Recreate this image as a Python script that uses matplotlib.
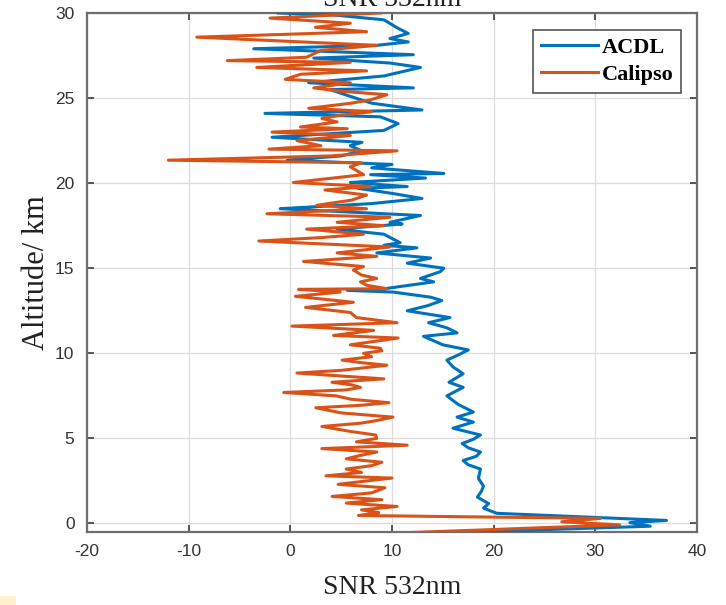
import matplotlib
matplotlib.use("Agg")
import matplotlib.pyplot as plt
from matplotlib.patches import Rectangle

plt.rcParams["axes.unicode_minus"] = False

# ---- data ----
calipso_alt = [-0.55, -0.08, 0.1, 0.3, 0.47, 0.64, 0.8, 1.0, 1.2, 1.4, 1.59, 1.8, 2.1, 2.3, 2.5, 2.67,
               2.8, 3.0, 3.2, 3.4, 3.6, 3.8, 4.0, 4.2, 4.4, 4.6, 4.8, 5.0, 5.2, 5.4, 5.7, 5.9, 6.05,
               6.25, 6.5, 6.8, 6.95, 7.1, 7.3, 7.5, 7.7, 7.85, 8.0, 8.15, 8.3, 8.5, 8.84, 9.0, 9.3,
               9.45, 9.6, 9.8, 10.0, 10.15, 10.3, 10.5, 10.9, 11.05, 11.35, 11.6, 11.8, 12.1, 12.4,
               12.7, 13.0, 13.35, 13.6, 13.76, 13.8, 14.0, 14.2, 14.4, 14.6, 14.9, 15.1, 15.4, 15.7,
               15.9, 16.25, 16.6, 16.8, 17.0, 17.3, 17.5, 17.7, 18.0, 18.2, 18.5, 18.7, 19.0, 19.3,
               19.6, 19.8, 20.04, 20.5, 20.96, 21.2, 21.35, 21.6, 21.9, 22.0, 22.2, 22.5, 22.8, 23.0,
               23.2, 23.3, 23.6, 23.8, 24.0, 24.2, 24.4, 24.7, 24.9, 25.2, 25.4, 25.6, 25.9, 26.1,
               26.4, 26.6, 26.8, 27.1, 27.2, 27.4, 27.8, 28.1, 28.58, 28.9, 29.16, 29.4, 29.7, 30.0]
calipso_snr = [11.0, 32.4, 26.7, 30.5, 6.7, 8.7, 7.0, 10.5, 5.5, 9.0, 4.1, 8.0, 9.3, 4.7, 7.5, 10.0,
               3.5, 7.0, 5.5, 8.0, 9.0, 5.5, 6.9, 8.5, 3.1, 11.5, 6.5, 8.5, 8.4, 6.0, 3.1, 7.0, 8.5,
               10.1, 5.0, 2.5, 7.0, 9.7, 6.0, 4.5, -0.65, 5.5, 6.9, 6.0, 4.1, 9.2, 0.65, 5.0, 9.5,
               7.0, 5.1, 8.0, 7.2, 9.0, 8.85, 5.9, 10.6, 4.25, 8.2, 0.16, 10.5, 6.5, 5.9,
               1.5, 6.2, 0.5, 4.9, 0.8, 9.5, 7.5, 6.9, 8.5, 7.0, 6.2, 7.2, 1.3, 8.5,
               4.6, 9.8, -3.1, 3.0, 7.2, 1.6, 9.2, 4.6, 9.8, -2.3, 7.5, 2.6, 6.0, 7.5,
               3.4, 7.9, 0.3, 7.2, 5.9, 7.0, -12.0, 4.0, 10.5, -2.1, 3.0, 0.65, 5.9, -1.8,
               5.6, 1.0, 4.6, 3.1, 5.0, 8.0, 1.8, 6.0, 7.9, 9.5, 5.0, 2.3, 5.9, -0.5,
               1.0, 7.5, -3.3, 5.9, -6.2, 1.6, 3.0, 8.5, -9.2, 7.5, 2.46, 5.9, -2.0, 8.85]

acdl_alt = [-0.6, -0.16, 0.05, 0.18, 0.6, 0.9, 1.17, 1.55, 1.9, 2.2, 2.65, 3.2, 3.45, 3.7, 3.95,
            4.2, 4.45, 4.7, 4.95, 5.2, 5.6, 5.96, 6.25, 6.55, 7.0, 7.5, 8.0, 8.3, 8.8, 9.2, 9.6,
            9.9, 10.2, 10.5, 11.0, 11.2, 11.5, 11.8, 12.1, 12.5, 12.8, 13.1, 13.3, 13.6, 13.7,
            13.8, 14.2, 14.4, 14.8, 15.0, 15.3, 15.6, 15.9, 16.2, 16.35, 16.5, 17.0, 17.3, 17.6,
            17.7, 18.1, 18.5, 18.8, 19.1, 19.4, 19.7, 19.8, 20.04, 20.3, 20.5, 20.57, 20.9, 21.1,
            21.35, 21.6, 21.9, 22.2, 22.4, 22.7, 23.1, 23.5, 23.9, 24.1, 24.3, 24.7, 25.1, 25.5,
            25.6, 25.9, 26.3, 26.8, 27.06, 27.35, 27.55, 27.9, 28.1, 28.3, 28.5, 28.8, 29.1,
            29.6, 29.9, 30.0]
acdl_snr = [12.8, 35.4, 33.4, 37.0, 20.3, 19.0, 19.5, 18.4, 18.8, 19.0, 18.5, 18.7, 17.5, 17.0, 18.3,
            18.7, 17.5, 16.9, 18.0, 18.7, 16.0, 18.0, 16.4, 18.0, 16.5, 15.4, 17.0, 15.6, 17.0, 16.0, 15.4,
            16.5, 17.5, 15.0, 13.1, 16.4, 15.4, 13.6, 15.7, 11.5, 13.5, 14.9, 13.8, 10.1, 5.6,
            9.3, 14.1, 12.8, 14.75, 15.1, 11.5, 13.8, 8.5, 12.45, 9.2, 10.8, 9.2, 4.6, 11.0,
            9.8, 12.8, -1.0, 8.0, 12.95, 10.0, 6.6, 11.5, 5.9, 13.3, 7.9, 15.1, 8.0, 10.0,
            -0.3, 5.0, 7.0, 5.9, 7.05, -1.8, 9.2, 10.6, 8.85, -2.5, 12.95, 8.0, 5.9, 3.9,
            12.1, 1.8, 9.2, 12.8, 9.8, 2.3, 12.1, -3.6, 8.5, 11.6, 9.8, 11.6, 10.6,
            9.2, 4.0, -1.2]

x_ticks = [-20, -10, 0, 10, 20, 30, 40]
y_ticks = [0, 5, 10, 15, 20, 25, 30]

# ---- figure ----
W, H = 726, 605
fig = plt.figure(figsize=(W / 100, H / 100), dpi=100)
ax = fig.add_axes([87 / W, 1 - 532 / H, (697 - 87) / W, (532 - 13) / H])

blue = "#0072BD"
orange = "#D95319"
ax.plot(acdl_snr, acdl_alt, color=blue, lw=2.2, label="ACDL", zorder=3)
ax.plot(calipso_snr, calipso_alt, color=orange, lw=2.2, label="Calipso", zorder=4)

ax.set_xlim(-20, 40)
ax.set_ylim(-0.5, 30)
ax.set_xticks(x_ticks)
ax.set_yticks(y_ticks)
ax.grid(True, color="#dcdcdc", lw=0.9)
ax.set_axisbelow(True)

for s in ax.spines.values():
    s.set_color("#6e6e6e")
    s.set_linewidth(1.6)
ax.tick_params(direction="in", length=5, width=1.2, color="#3a3a3a",
               top=True, right=True, labelsize=12.5, labelcolor="#333333", pad=9)
for lab in ax.get_xticklabels() + ax.get_yticklabels():
    lab.set_fontfamily("Liberation Sans")

ax.set_xlabel("SNR 532nm", fontfamily="Liberation Serif", fontsize=20, color="#222222", labelpad=11)
ax.set_ylabel("Altitude/ km", fontfamily="Liberation Serif", fontsize=22, color="#222222", labelpad=3)

fig.text(392 / W, 1 - 6 / H, "SNR 532nm", ha="center", va="baseline",
         fontfamily="Liberation Serif", fontsize=20, color="#222222")

leg = ax.legend(loc="upper right", bbox_to_anchor=(0.974, 0.968), fancybox=False,
                frameon=True, edgecolor="#555555", framealpha=1,
                prop={"family": "Liberation Serif", "weight": "bold", "size": 16},
                handlelength=2.6, handletextpad=0.15, borderpad=0.35, labelspacing=0.3,
                borderaxespad=0)
leg.get_frame().set_linewidth(1.2)

fig.patches.append(Rectangle((0, 0), 16 / W, 9 / H, transform=fig.transFigure,
                             facecolor="#fff2cc", edgecolor="none"))

fig.savefig("out.png", dpi=100)
